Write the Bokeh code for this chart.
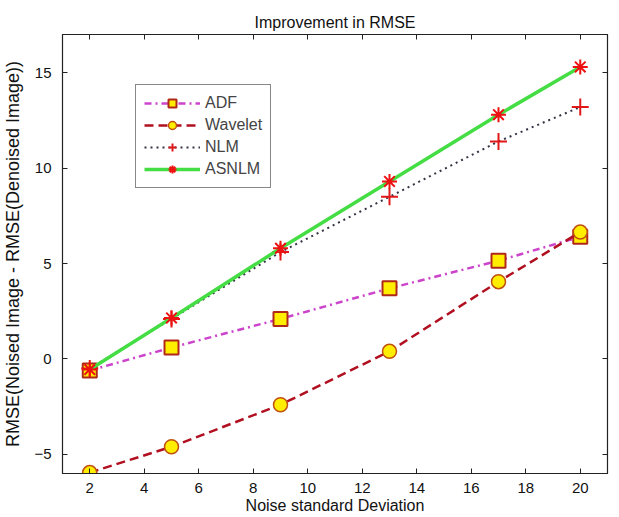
from bokeh.plotting import figure
from bokeh.models import Range1d, LinearAxis, FixedTicker, Legend, LegendItem, CustomJSTickFormatter
from bokeh.embed import file_html
from bokeh.resources import INLINE

noise_sd = [2, 5, 9, 13, 17, 20]
adf = [-0.6, 0.6, 2.1, 3.7, 5.15, 6.4]
wavelet = [-5.95, -4.6, -2.4, 0.4, 4.05, 6.65]
nlm = [-0.5, 2.1, 5.6, 8.5, 11.4, 13.2]
asnlm = [-0.55, 2.15, 5.8, 9.3, 12.8, 15.3]
x_ticks = [2, 4, 6, 8, 10, 12, 14, 16, 18, 20]
y_ticks = [-5, 0, 5, 10, 15]

FONT = "Liberation Sans"

p = figure(frame_width=545, frame_height=439, output_backend="svg", toolbar_location=None,
           x_range=Range1d(1, 21), y_range=Range1d(-6, 17),
           min_border_left=54, min_border_right=4, min_border_top=34, min_border_bottom=42,
           x_axis_label="Noise standard Deviation",
           y_axis_label="RMSE(Noised Image - RMSE(Denoised Image))")
p.title.text = "Improvement in RMSE"
p.title.align = "center"
p.title.text_font = FONT
p.title.text_font_size = "16px"
p.title.text_font_style = "normal"
p.title.text_color = "#111111"
p.title.offset = 0
p.title.standoff = 7

p.grid.visible = False
p.outline_line_color = "#222222"
p.outline_line_width = 1.2
p.background_fill_color = "white"
p.border_fill_color = "white"

for ax in (p.xaxis[0], p.yaxis[0]):
    ax.major_tick_in = 5
    ax.major_tick_out = 0
    ax.minor_tick_in = 0
    ax.minor_tick_out = 0
    ax.axis_line_color = "#222222"
    ax.major_tick_line_color = "#222222"
    ax.major_label_text_font = FONT
    ax.major_label_text_font_size = "15px"
    ax.major_label_text_color = "#111111"
    ax.axis_label_text_font = FONT
    ax.axis_label_text_font_style = "normal"
    ax.axis_label_text_color = "#111111"
    ax.axis_label_text_font_size = "16px"
p.xaxis[0].ticker = FixedTicker(ticks=x_ticks)
p.yaxis[0].ticker = FixedTicker(ticks=y_ticks)
p.xaxis[0].major_label_standoff = 9
p.xaxis[0].axis_label_standoff = 1
p.yaxis[0].major_label_standoff = 11
p.yaxis[0].axis_label_standoff = 8
p.yaxis[0].axis_label_text_font_size = "18px"

for loc, ticks in (("above", x_ticks), ("right", y_ticks)):
    ax = LinearAxis(ticker=FixedTicker(ticks=ticks),
                    formatter=CustomJSTickFormatter(code="return ''"))
    ax.major_tick_in = 5
    ax.major_tick_out = 0
    ax.minor_tick_in = 0
    ax.minor_tick_out = 0
    ax.major_label_standoff = 0
    ax.axis_line_color = "#222222"
    ax.major_tick_line_color = "#222222"
    p.add_layout(ax, loc)

# ADF
r_adf_l = p.line(noise_sd, adf, line_color="#cc44cc", line_width=2.5, line_dash="7 4 2 4")
r_adf_m = p.scatter(noise_sd, adf, marker="square", size=14, fill_color="#ffee00",
                    line_color="#b0281a", line_width=2)
# Wavelet
r_wav_l = p.line(noise_sd, wavelet, line_color="#b01020", line_width=2.5, line_dash="9 5")
r_wav_m = p.scatter(noise_sd, wavelet, marker="circle", size=14, fill_color="#ffee00",
                    line_color="#c05010", line_width=1.5)
# NLM
r_nlm_l = p.line(noise_sd, nlm, line_color="#333344", line_width=2, line_dash="2 4")
r_nlm_m = p.scatter(noise_sd, nlm, marker="cross", size=17, fill_color=None,
                    line_color="#e01818", line_width=2)
# ASNLM
r_as_l = p.line(noise_sd, asnlm, line_color="#44dd44", line_width=3.5)
r_as_m = p.scatter(noise_sd, asnlm, marker="asterisk", size=15, fill_color=None,
                   line_color="#ee1111", line_width=2)

legend = Legend(items=[
    LegendItem(label="ADF", renderers=[r_adf_l, r_adf_m]),
    LegendItem(label="Wavelet", renderers=[r_wav_l, r_wav_m]),
    LegendItem(label="NLM", renderers=[r_nlm_l, r_nlm_m]),
    LegendItem(label="ASNLM", renderers=[r_as_l, r_as_m]),
], location=(73, 285))
legend.glyph_width = 56
legend.glyph_height = 20
legend.label_height = 20
legend.label_text_font = FONT
legend.label_text_font_size = "16px"
legend.label_standoff = 5
legend.padding = 8
legend.spacing = 2
legend.margin = 0
legend.border_line_color = "#111111"
legend.border_line_width = 1
legend.background_fill_color = "white"
legend.background_fill_alpha = 1
p.add_layout(legend, "center")

open("out.html", "w").write(file_html(p, INLINE))
